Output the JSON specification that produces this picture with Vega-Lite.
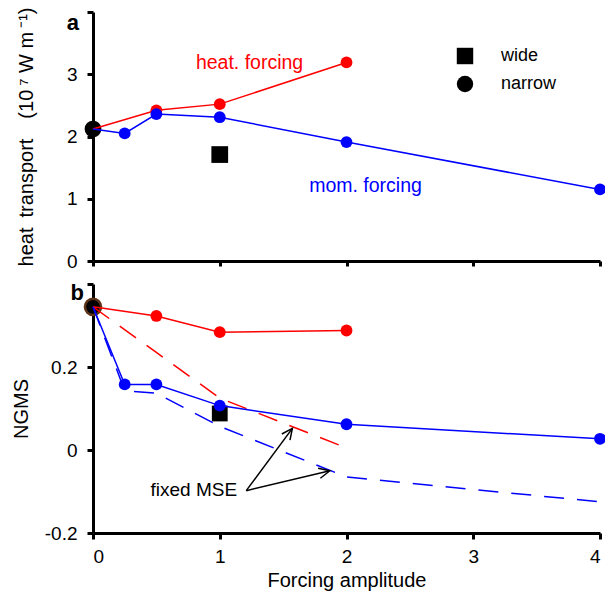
{
  "$schema": "https://vega.github.io/schema/vega-lite/v6.json",
  "padding": {"left": 11, "top": 7, "right": 0, "bottom": 5},
  "spacing": 11,
  "config": {
    "font": "Liberation Sans",
    "view": {"stroke": null},
    "axis": {
      "domainColor": "black", "domainWidth": 3, "tickColor": "black", "tickWidth": 3, "tickSize": 6,
      "labelFontSize": 19, "labelColor": "black", "labelFont": "Liberation Sans",
      "titleFontSize": 20, "titleFontWeight": "normal", "titleColor": "black", "titleFont": "Liberation Sans",
      "grid": false
    }
  },
  "datasets": {
    "topLines": [
      {"forcing": "heat", "x": 0, "y": 2.12},
      {"forcing": "heat", "x": 0.5, "y": 2.42},
      {"forcing": "heat", "x": 1, "y": 2.52},
      {"forcing": "heat", "x": 2, "y": 3.19},
      {"forcing": "mom", "x": 0, "y": 2.12},
      {"forcing": "mom", "x": 0.25, "y": 2.05},
      {"forcing": "mom", "x": 0.5, "y": 2.36},
      {"forcing": "mom", "x": 1, "y": 2.31},
      {"forcing": "mom", "x": 2, "y": 1.91},
      {"forcing": "mom", "x": 4, "y": 1.15}
    ],
    "topBlack": [
      {"width": "narrow", "x": 0, "y": 2.12},
      {"width": "wide", "x": 1, "y": 1.71}
    ],
    "topText": [
      {"forcing": "heat", "label": "heat. forcing", "x": 1.235, "y": 3.18},
      {"forcing": "mom", "label": "mom. forcing", "x": 2.15, "y": 1.2}
    ],
    "botLines": [
      {"forcing": "heat", "x": 0, "y": 0.345},
      {"forcing": "heat", "x": 0.5, "y": 0.323},
      {"forcing": "heat", "x": 1, "y": 0.284},
      {"forcing": "heat", "x": 2, "y": 0.288},
      {"forcing": "mom", "x": 0, "y": 0.345},
      {"forcing": "mom", "x": 0.25, "y": 0.158},
      {"forcing": "mom", "x": 0.5, "y": 0.158},
      {"forcing": "mom", "x": 1, "y": 0.107},
      {"forcing": "mom", "x": 2, "y": 0.062},
      {"forcing": "mom", "x": 4, "y": 0.027}
    ],
    "botDashed": [
      {"forcing": "heat", "x": 0, "y": 0.345},
      {"forcing": "heat", "x": 0.5, "y": 0.235},
      {"forcing": "heat", "x": 1, "y": 0.125},
      {"forcing": "heat", "x": 2, "y": 0.005},
      {"forcing": "mom", "x": 0, "y": 0.345},
      {"forcing": "mom", "x": 0.25, "y": 0.143},
      {"forcing": "mom", "x": 0.5, "y": 0.137},
      {"forcing": "mom", "x": 1, "y": 0.057},
      {"forcing": "mom", "x": 2, "y": -0.065},
      {"forcing": "mom", "x": 4, "y": -0.125}
    ],
    "arrows": [
      {"seg": "s1", "o": 1, "x": 1.209, "y": -0.098},
      {"seg": "s1", "o": 2, "x": 1.573, "y": 0.052},
      {"seg": "h1", "o": 1, "x": 1.49, "y": 0.0386},
      {"seg": "h1", "o": 2, "x": 1.573, "y": 0.052},
      {"seg": "h1", "o": 3, "x": 1.554, "y": 0.0239},
      {"seg": "s2", "o": 1, "x": 1.209, "y": -0.098},
      {"seg": "s2", "o": 2, "x": 1.869, "y": -0.05},
      {"seg": "h2", "o": 1, "x": 1.776, "y": -0.044},
      {"seg": "h2", "o": 2, "x": 1.869, "y": -0.05},
      {"seg": "h2", "o": 3, "x": 1.794, "y": -0.068}
    ]
  },
  "vconcat": [
    {
      "width": 507,
      "height": 249,
      "layer": [
        {
          "data": {"name": "topBlack"},
          "mark": {"type": "point", "filled": true, "opacity": 1},
          "encoding": {
            "x": {"field": "x", "type": "quantitative", "scale": {"domain": [0, 4], "nice": false},
                  "axis": {"title": null, "labels": false, "values": [0, 1, 2, 3, 4], "tickSize": 5}},
            "y": {"field": "y", "type": "quantitative", "scale": {"domain": [0, 4], "nice": false},
                  "axis": {"title": "heat\u2002transport\u2003(10\u2009⁷ W m\u2009⁻¹)", "values": [0, 1, 2, 3, 4],
                           "labelExpr": "datum.value == 4 ? '' : '' + datum.value", "labelPadding": 10, "titlePadding": 30}},
            "shape": {"field": "width", "type": "nominal",
                      "scale": {"domain": ["wide", "narrow"], "range": ["square", "circle"]},
                      "legend": {"orient": "none", "legendX": 363, "legendY": 35, "title": null,
                                 "labelFontSize": 18, "labelColor": "black", "symbolSize": 270, "labelOffset": 27,
                                 "rowPadding": 10, "symbolFillColor": "black", "symbolStrokeColor": "black", "symbolStrokeWidth": 0}},
            "size": {"value": 280},
            "color": {"value": "black"}
          }
        },
        {
          "data": {"name": "topLines"},
          "mark": {"type": "line", "strokeWidth": 1.5},
          "encoding": {
            "x": {"field": "x", "type": "quantitative"},
            "y": {"field": "y", "type": "quantitative"},
            "color": {"field": "forcing", "type": "nominal", "scale": {"domain": ["heat", "mom"], "range": ["#ff0000", "#0000ff"]}, "legend": null}
          }
        },
        {
          "data": {"name": "topLines"},
          "transform": [{"filter": "datum.x > 0"}],
          "mark": {"type": "circle", "size": 140, "opacity": 1},
          "encoding": {
            "x": {"field": "x", "type": "quantitative"},
            "y": {"field": "y", "type": "quantitative"},
            "color": {"field": "forcing", "type": "nominal", "scale": {"domain": ["heat", "mom"], "range": ["#ff0000", "#0000ff"]}, "legend": null}
          }
        },
        {
          "data": {"name": "topText"},
          "mark": {"type": "text", "fontSize": 19.5, "align": "center", "baseline": "middle"},
          "encoding": {
            "x": {"field": "x", "type": "quantitative"},
            "y": {"field": "y", "type": "quantitative"},
            "text": {"field": "label"},
            "color": {"field": "forcing", "type": "nominal", "scale": {"domain": ["heat", "mom"], "range": ["#ff0000", "#0000ff"]}, "legend": null}
          }
        },
        {
          "data": {"values": [{"label": "a", "x": 0, "y": 4}]},
          "mark": {"type": "text", "fontSize": 22, "fontWeight": "bold", "align": "right", "baseline": "alphabetic", "dx": -14, "dy": 18, "color": "black"},
          "encoding": {
            "x": {"field": "x", "type": "quantitative"},
            "y": {"field": "y", "type": "quantitative"},
            "text": {"field": "label"}
          }
        }
      ]
    },
    {
      "width": 507,
      "height": 249,
      "layer": [
        {
          "mark": {"type": "rule", "color": "#808080", "strokeWidth": 2},
          "encoding": {
            "y": {"datum": 0, "type": "quantitative", "scale": {"domain": [-0.2, 0.4], "nice": false},
                  "axis": {"title": "NGMS", "values": [-0.2, 0, 0.2, 0.4],
                           "labelExpr": "datum.value == 0.4 ? '' : '' + datum.value", "labelPadding": 10, "titlePadding": 13}}
          }
        },
        {
          "data": {"values": [{"x": 1, "y": 0.088}]},
          "mark": {"type": "point", "shape": "square", "filled": true, "opacity": 1, "size": 250, "color": "black"},
          "encoding": {
            "x": {"field": "x", "type": "quantitative", "scale": {"domain": [0, 4], "nice": false},
                  "axis": {"title": "Forcing amplitude", "values": [0, 1, 2, 3, 4], "labelExpr": "'' + datum.value", "labelPadding": 8, "titlePadding": 4}},
            "y": {"field": "y", "type": "quantitative"}
          }
        },
        {
          "data": {"values": [{"x": 0, "y": 0.345}]},
          "mark": {"type": "point", "shape": "circle", "filled": true, "opacity": 1, "size": 260, "fill": "black", "stroke": "#5c3317", "strokeWidth": 2.5},
          "encoding": {
            "x": {"field": "x", "type": "quantitative"},
            "y": {"field": "y", "type": "quantitative"}
          }
        },
        {
          "data": {"name": "botDashed"},
          "mark": {"type": "line", "strokeWidth": 1.5, "strokeDash": [20, 13]},
          "encoding": {
            "x": {"field": "x", "type": "quantitative"},
            "y": {"field": "y", "type": "quantitative"},
            "color": {"field": "forcing", "type": "nominal", "scale": {"domain": ["heat", "mom"], "range": ["#ff0000", "#0000ff"]}, "legend": null}
          }
        },
        {
          "data": {"name": "botLines"},
          "mark": {"type": "line", "strokeWidth": 1.5},
          "encoding": {
            "x": {"field": "x", "type": "quantitative"},
            "y": {"field": "y", "type": "quantitative"},
            "color": {"field": "forcing", "type": "nominal", "scale": {"domain": ["heat", "mom"], "range": ["#ff0000", "#0000ff"]}, "legend": null}
          }
        },
        {
          "data": {"name": "botLines"},
          "transform": [{"filter": "datum.x > 0"}],
          "mark": {"type": "circle", "size": 140, "opacity": 1},
          "encoding": {
            "x": {"field": "x", "type": "quantitative"},
            "y": {"field": "y", "type": "quantitative"},
            "color": {"field": "forcing", "type": "nominal", "scale": {"domain": ["heat", "mom"], "range": ["#ff0000", "#0000ff"]}, "legend": null}
          }
        },
        {
          "data": {"name": "arrows"},
          "mark": {"type": "line", "strokeWidth": 1.5, "color": "black"},
          "encoding": {
            "x": {"field": "x", "type": "quantitative"},
            "y": {"field": "y", "type": "quantitative"},
            "detail": {"field": "seg"},
            "order": {"field": "o"}
          }
        },
        {
          "data": {"values": [{"label": "fixed MSE", "x": 0.795, "y": -0.097}]},
          "mark": {"type": "text", "fontSize": 19, "align": "center", "baseline": "middle", "color": "black"},
          "encoding": {
            "x": {"field": "x", "type": "quantitative"},
            "y": {"field": "y", "type": "quantitative"},
            "text": {"field": "label"}
          }
        },
        {
          "data": {"values": [{"label": "b", "x": 0, "y": 0.4}]},
          "mark": {"type": "text", "fontSize": 22, "fontWeight": "bold", "align": "right", "baseline": "alphabetic", "dx": -9, "dy": 16, "color": "black"},
          "encoding": {
            "x": {"field": "x", "type": "quantitative"},
            "y": {"field": "y", "type": "quantitative"},
            "text": {"field": "label"}
          }
        }
      ]
    }
  ]
}
